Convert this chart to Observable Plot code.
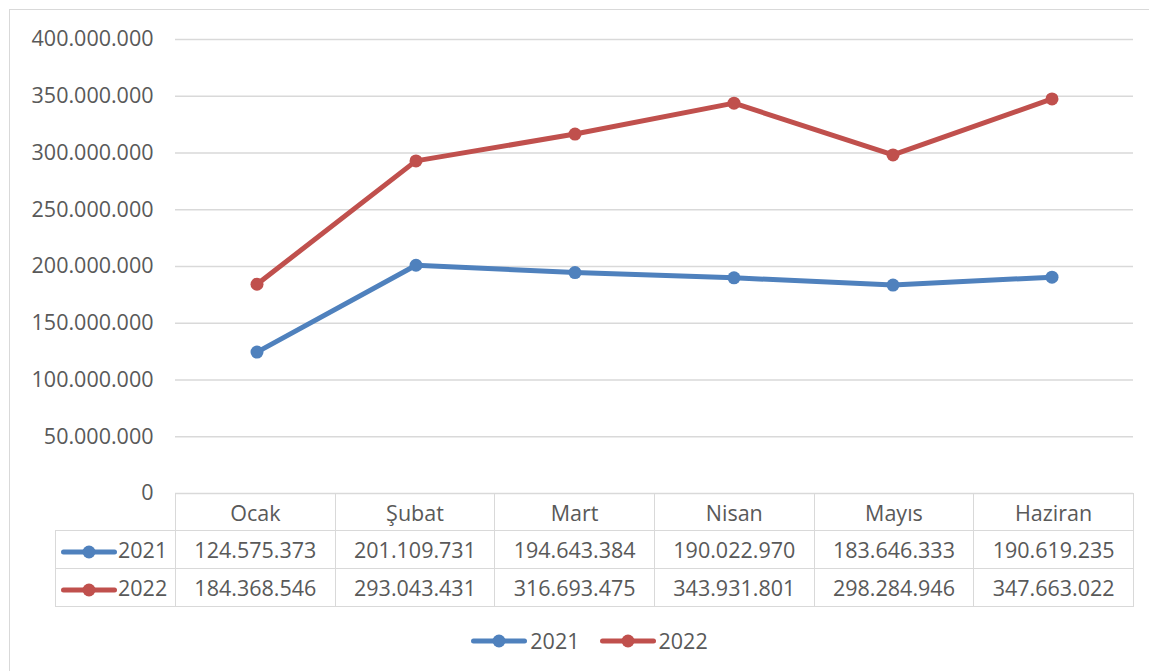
<!DOCTYPE html>
<html>
<head>
<meta charset="utf-8">
<script src="https://cdn.jsdelivr.net/npm/d3@7"></script>
<script src="https://cdn.jsdelivr.net/npm/@observablehq/plot@0.6"></script>
<style>
  html, body { margin: 0; padding: 0; background: #fff; }
  #wrap { position: relative; width: 1149px; height: 671px; overflow: hidden; background: #fff;
          font-family: "Open Sans", sans-serif; color: #595959; }
  #frame { position: absolute; left: 9px; top: 9px; width: 1300px; height: 800px;
           border: 1.5px solid #d9d9d9; box-sizing: border-box; }
  #chart { position: absolute; left: 0; top: 0; }
  #table { position: absolute; left: 55px; top: 493px; border-collapse: collapse; table-layout: fixed;
           font-size: 21.5px; color: #595959; }
  #table td { border: 1.5px solid #d9d9d9; text-align: center; padding: 0; white-space: nowrap; }
  #table tr.head td { height: 36px; }
  #table tr.row td { height: 37px; }
  #table td.blank { border-top: none; border-left: none; }
  #table td.lab { text-align: left; padding-left: 5px; }
  #table td.lab svg { vertical-align: middle; margin-right: 1px; }
  #legend { position: absolute; top: 626px; left: 0; width: 1179px; display: flex; justify-content: center;
            gap: 20px; font-size: 21.5px; color: #595959; align-items: center; }
  #legend .item { display: flex; align-items: center; gap: 3px; }
</style>
</head>
<body>
<div id="wrap">
  <div id="frame"></div>
  <div id="chart"></div>
  <table id="table"></table>
  <div id="legend"></div>
</div>
<script>
const months = ["Ocak", "Şubat", "Mart", "Nisan", "Mayıs", "Haziran"];
const seriesNames = ["2021", "2022"];
const values2021 = [124575373, 201109731, 194643384, 190022970, 183646333, 190619235];
const values2022 = [184368546, 293043431, 316693475, 343931801, 298284946, 347663022];
const yTicks = [0, 50000000, 100000000, 150000000, 200000000, 250000000, 300000000, 350000000, 400000000];
const colors = ["#4F81BD", "#C0504D"];

const seriesValues = [values2021, values2022];
const data = [];
seriesNames.forEach((s, si) => months.forEach((m, i) => data.push({series: s, month: m, value: seriesValues[si][i]})));

const locale = d3.formatLocale({decimal: ",", thousands: ".", grouping: [3], currency: ["", ""]});
const fmt = locale.format(",");

const chart = Plot.plot({
  width: 1149,
  height: 494,
  marginLeft: 175,
  marginRight: 16,
  marginTop: 39,
  marginBottom: 1,
  style: {fontFamily: "Open Sans, sans-serif", fontSize: "21.5px", color: "#595959", background: "transparent", overflow: "visible"},
  x: {type: "band", domain: months, padding: 0, axis: null},
  y: {domain: [0, 400000000], ticks: yTicks, label: null},
  color: {domain: seriesNames, range: colors},
  marks: [
    Plot.gridY(yTicks, {stroke: "#d9d9d9", strokeOpacity: 1, strokeWidth: 1.5}),
    Plot.axisY(yTicks, {tickSize: 0, tickPadding: 22, tickFormat: fmt, label: null, fill: "#595959"}),
    Plot.line(data, {x: "month", y: "value", z: "series", stroke: "series", strokeWidth: 5, strokeLinecap: "round", strokeLinejoin: "round"}),
    Plot.dot(data, {x: "month", y: "value", fill: "series", r: 6.5, stroke: null})
  ]
});
document.getElementById("chart").appendChild(chart);

function swatch(color) {
  return `<svg width="56" height="14" viewBox="0 0 56 14"><line x1="2.5" y1="7" x2="53.5" y2="7" stroke="${color}" stroke-width="5" stroke-linecap="round"/><circle cx="28" cy="7" r="6.5" fill="${color}"/></svg>`;
}

// Data table
const table = document.getElementById("table");
const colgroup = `<colgroup><col style="width:120px">${months.map(() => '<col style="width:159.67px">').join("")}</colgroup>`;
let html = colgroup;
html += `<tr class="head"><td class="blank"></td>${months.map(m => `<td>${m}</td>`).join("")}</tr>`;
seriesNames.forEach((s, si) => {
  html += `<tr class="row"><td class="lab">${swatch(colors[si])}${s}</td>${seriesValues[si].map(v => `<td>${fmt(v)}</td>`).join("")}</tr>`;
});
table.innerHTML = html;

// Legend
document.getElementById("legend").innerHTML = seriesNames.map((s, si) =>
  `<div class="item">${swatch(colors[si])}<span>${s}</span></div>`).join("");
</script>
</body>
</html>
